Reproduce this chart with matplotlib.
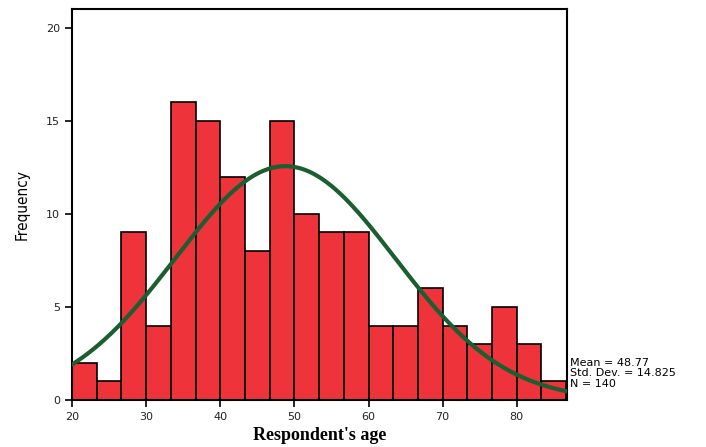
import numpy as np
import matplotlib
matplotlib.use('Agg')
import matplotlib.pyplot as plt

# histogram of respondent ages (bin width 10/3 years, starting at 20)
bin_start = 20.0
bin_width = 10.0 / 3.0
counts = [2, 1, 9, 4, 16, 15, 12, 8, 15, 10, 9, 9, 4, 4, 6, 4, 3, 5, 3, 1]

mean_age = 48.77
std_age = 14.825
n_total = 140

x_ticks = [20, 30, 40, 50, 60, 70, 80]
y_ticks = [0, 5, 10, 15, 20]

edges = bin_start + bin_width * np.arange(len(counts) + 1)

fig = plt.figure(figsize=(7.06, 4.47), dpi=100)
ax = fig.add_axes([0.102, 0.105, 0.701, 0.875])

ax.bar(edges[:-1], counts, width=bin_width, align='edge',
       color='#ee333b', edgecolor='black', linewidth=1.2, zorder=2)

# normal curve fitted from the stats shown in the chart
xs = np.linspace(edges[0], edges[-1], 300)
pdf = np.exp(-0.5 * ((xs - mean_age) / std_age) ** 2) / (std_age * np.sqrt(2 * np.pi))
ax.plot(xs, n_total * bin_width * pdf, color='#1b5e30', linewidth=3, zorder=3)

ax.set_xlim(edges[0], edges[-1] + 0.1)
ax.set_ylim(0, 21)
ax.set_xticks(x_ticks)
ax.set_yticks(y_ticks)
ax.tick_params(direction='out', length=5, width=1.2, labelsize=8, colors='black',
               labelcolor='#222222')
for s in ax.spines.values():
    s.set_linewidth(1.5)

ax.set_ylabel('Frequency', fontsize=11, fontstretch='condensed', labelpad=12)
ax.set_xlabel("Respondent's age", fontsize=13, fontweight='bold',
              family='Liberation Serif', labelpad=4)

stats = 'Mean = %.2f\nStd. Dev. = %.3f\nN = %d' % (mean_age, std_age, n_total)
fig.text(0.808, 0.199, stats, fontsize=8, va='top', ha='left', linespacing=1.05)

fig.savefig('out.png', dpi=100)
